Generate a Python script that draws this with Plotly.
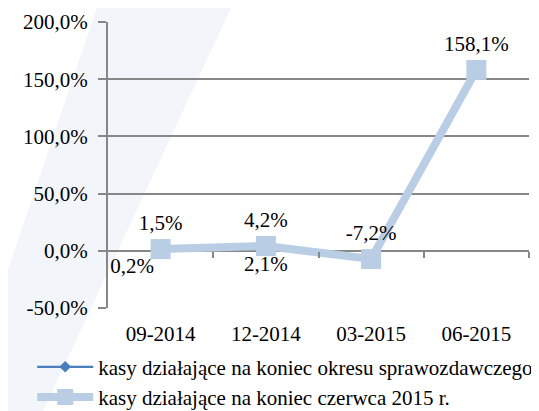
import plotly.graph_objects as go

# data
okresy = ["09-2014", "12-2014", "03-2015", "06-2015"]
kasy_okres = [0.2, 2.1, -7.2, 158.1]
kasy_czerwiec = [1.5, 4.2, -7.2, 158.1]
nazwa_okres = "kasy działające na koniec okresu sprawozdawczego"
nazwa_czerwiec = "kasy działające na koniec czerwca 2015 r."
y_ticks = [-50, 0, 50, 100, 150, 200]


def pct(v):
    return f"{v:.1f}%".replace(".", ",")


FONT = "Liberation Serif"
GRID = "#878787"
xs = list(range(len(okresy)))

# page body has an 8px margin, so the figure is 8px smaller than the window
fig = go.Figure(layout=go.Layout(autosize=False, width=531, height=403,
                                 margin=go.layout.Margin(l=100, r=10, t=14, b=103,
                                                         autoexpand=False)))

# faint diagonal watermark band behind the chart
fig.add_shape(type="path", xref="paper", yref="paper", layer="below",
              path="M -0.019 1.08 L 0.302 1.08 L -0.154 -0.36 L -0.352 -0.36 Z",
              fillcolor="#F2F5FA", line=dict(width=0))

fig.add_trace(go.Scatter(
    x=xs, y=kasy_okres, name=nazwa_okres, mode="lines+markers+text",
    line=dict(color="#4A7EBB", width=2.25),
    marker=dict(symbol="diamond", size=9, color="#4A7EBB"),
    text=[pct(v) for v in kasy_okres[:2]] + ["", ""],
    textposition=["bottom left", "bottom center", "top center", "top center"],
    textfont=dict(family=FONT, size=21, color="black"),
    cliponaxis=False,
))
fig.add_trace(go.Scatter(
    x=xs, y=kasy_czerwiec, name=nazwa_czerwiec, mode="lines+markers+text",
    line=dict(color="#B9CDE5", width=8),
    marker=dict(symbol="square", size=20, color="#B9CDE5"),
    text=[pct(v) for v in kasy_czerwiec],
    textposition="top center",
    textfont=dict(family=FONT, size=21, color="black"),
    cliponaxis=False,
))
# invisible helper so the tick-only axis at 0% gets drawn
fig.add_trace(go.Scatter(x=[xs[0]], y=[0], xaxis="x2", mode="markers",
                         marker=dict(opacity=0), showlegend=False, hoverinfo="skip"))

fig.update_layout(
    paper_bgcolor="white", plot_bgcolor="rgba(0,0,0,0)",
    font=dict(family=FONT, size=21, color="black"),
    showlegend=True,
    legend=dict(orientation="v", x=-0.18, xanchor="left", y=-0.135, yanchor="top",
                bgcolor="rgba(0,0,0,0)", tracegroupgap=0, itemwidth=56,
                font=dict(family=FONT, size=21, color="black")),
    xaxis=dict(range=[-0.5, len(okresy) - 0.5], tickvals=xs, ticktext=okresy,
               showgrid=False, zeroline=False, showline=False, ticks="",
               ticklabelstandoff=11),
    xaxis2=dict(range=[-0.5, len(okresy) - 0.5], overlaying="x", anchor="free",
                position=(0 - y_ticks[0]) / (y_ticks[-1] - y_ticks[0]),
                tickvals=[i + 0.5 for i in xs], ticks="outside", ticklen=6,
                tickwidth=1.5, tickcolor=GRID, showticklabels=False,
                showgrid=False, zeroline=False, showline=False),
    yaxis=dict(range=[y_ticks[0], y_ticks[-1]], tickvals=y_ticks,
               ticktext=[pct(v) for v in y_ticks],
               showgrid=True, gridcolor=GRID, gridwidth=1.5,
               zeroline=True, zerolinecolor=GRID, zerolinewidth=1.5,
               showline=True, linecolor=GRID, linewidth=2,
               ticks="outside", ticklen=8, tickcolor=GRID, tickwidth=1.5,
               ticklabelstandoff=6),
)

fig.write_html("out.html")
